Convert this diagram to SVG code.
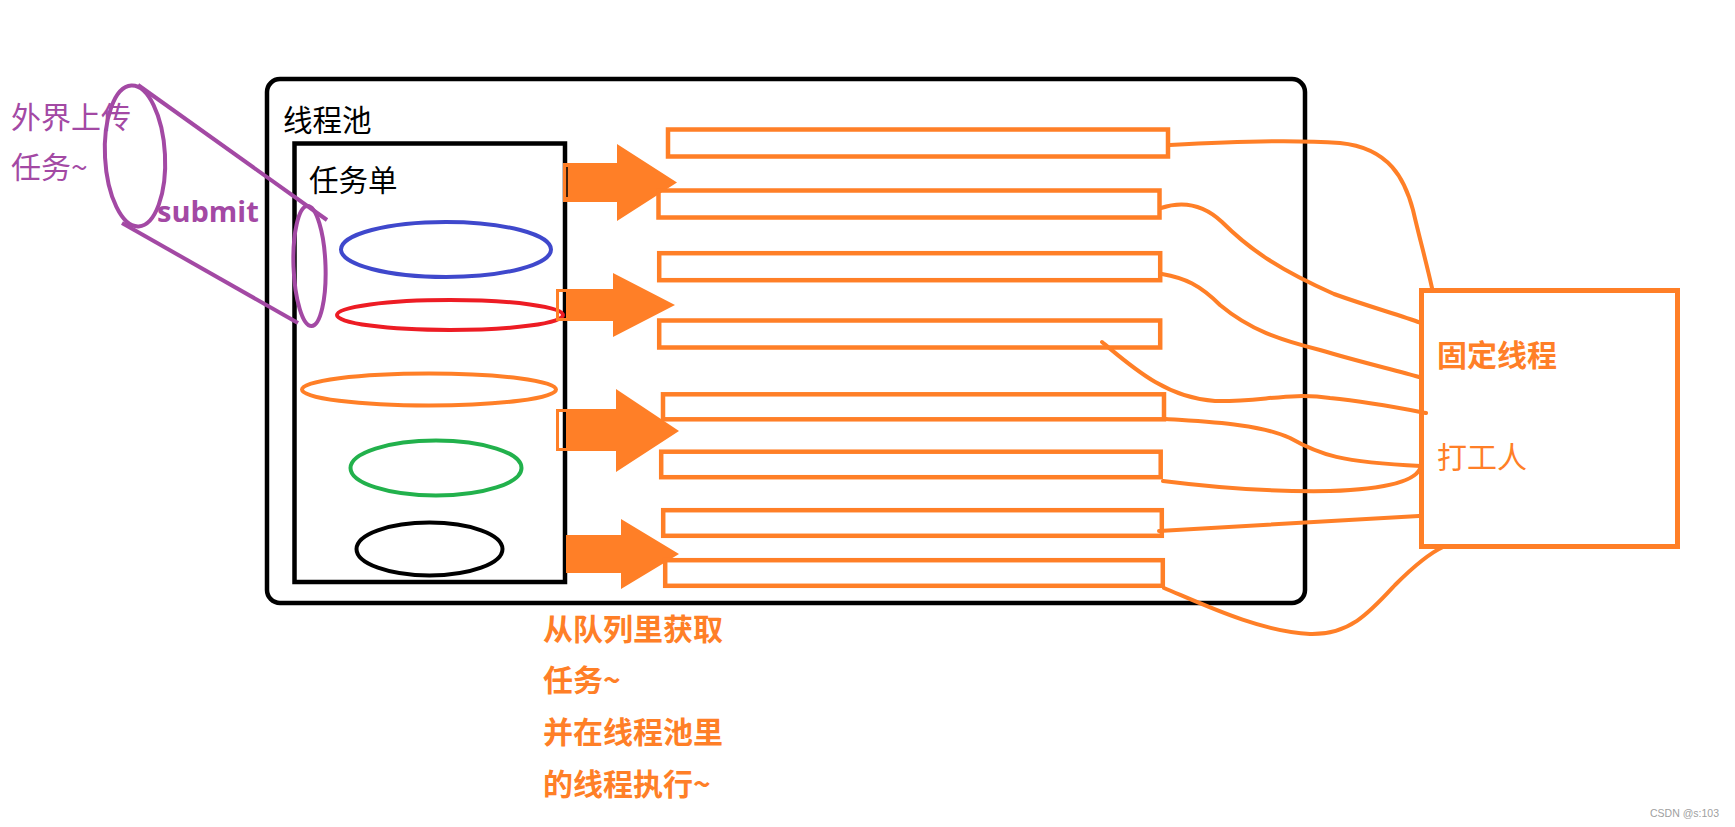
<svg xmlns="http://www.w3.org/2000/svg" width="1735" height="827" viewBox="0 0 1735 827">
<style>
.cjk{font-family:"Noto Sans CJK SC","Noto Sans",sans-serif;}
.purple{fill:#a349a4;}
.orange{fill:#ff7f27;}
.pstroke{fill:none;stroke:#a349a4;stroke-width:4;}
.thread{fill:none;stroke:#ff7f27;stroke-width:4.5;}
.arrow{fill:#ff7f27;stroke:none;}
.conn{fill:none;stroke:#ff7f27;stroke-width:4;stroke-linecap:round;}
.task{fill:none;stroke-width:4;}
</style>
<rect width="1735" height="827" fill="#ffffff"/>

<g id="pool">
  <rect x="267" y="79" width="1038" height="524" rx="13" fill="none" stroke="#000" stroke-width="4.5"/>
  <text x="283" y="131" class="cjk" font-size="29.5" fill="#000">线程池</text>
</g>

<g id="queue">
  <rect x="294.5" y="143.5" width="270.5" height="438.5" fill="none" stroke="#000" stroke-width="4.5"/>
  <text x="309" y="191" class="cjk" font-size="29.5" fill="#000">任务单</text>
</g>

<g id="task-blue"><ellipse cx="446" cy="249.5" rx="105" ry="27.5" class="task" stroke="#3f48cc"/></g>
<g id="task-red"><ellipse cx="450" cy="315" rx="113" ry="15" class="task" stroke="#ed1c24"/></g>
<g id="task-orange"><ellipse cx="429" cy="389.5" rx="127" ry="16" class="task" stroke="#ff7f27" stroke-width="3.5"/></g>
<g id="task-green"><ellipse cx="436" cy="468" rx="85.5" ry="27.5" class="task" stroke="#22b14c"/></g>
<g id="task-black"><ellipse cx="429.5" cy="549" rx="73" ry="26.5" class="task" stroke="#000"/></g>

<g id="submit-cylinder">
  <ellipse cx="135" cy="156" rx="30" ry="70.5" class="pstroke" transform="rotate(-3 135 156)"/>
  <ellipse cx="309.5" cy="266" rx="16" ry="60" class="pstroke" transform="rotate(-2 309.5 266)"/>
  <line x1="138" y1="85" x2="327" y2="220" class="pstroke"/>
  <line x1="122" y1="223" x2="298" y2="323" class="pstroke"/>
  <text x="11" y="128" class="cjk purple" font-size="30">外界上传</text>
  <text x="11" y="178" class="cjk purple" font-size="30">任务~</text>
  <text x="157" y="222" font-family="'Open Sans','Noto Sans',sans-serif" font-weight="bold" font-size="29" class="purple">submit</text>
</g>

<g id="fetch-arrows">
  <polygon class="arrow" points="563,163 617,163 617,144 677,182.5 617,221 617,202 563,202"/>
  <line x1="567" y1="167" x2="567" y2="197" stroke="#000" stroke-width="1.5"/>
  <polygon class="arrow" points="568,289 613,289 613,273 675,305 613,337 613,321 568,321"/>
  <rect x="557.5" y="290.5" width="10" height="29" fill="none" stroke="#ff7f27" stroke-width="3"/>
  <polygon class="arrow" points="568,409 616,409 616,389 679,431 616,472 616,451 568,451"/>
  <rect x="557.5" y="410.5" width="10" height="39" fill="none" stroke="#ff7f27" stroke-width="3"/>
  <polygon class="arrow" points="566,535 621,535 621,519 679,554 621,589 621,573 566,573"/>
</g>

<g id="thread-1"><rect x="668" y="129.5" width="500" height="27" class="thread"/></g>
<g id="thread-2"><rect x="658.5" y="190.5" width="501" height="27" class="thread"/></g>
<g id="thread-3"><rect x="659.2" y="253.2" width="501" height="27" class="thread"/></g>
<g id="thread-4"><rect x="659.2" y="320.5" width="501" height="27" class="thread"/></g>
<g id="thread-5"><rect x="663" y="394.3" width="501" height="25" class="thread"/></g>
<g id="thread-6"><rect x="661.2" y="451.7" width="499.5" height="25.5" class="thread"/></g>
<g id="thread-7"><rect x="663.2" y="510.2" width="498.6" height="25.6" class="thread"/></g>
<g id="thread-8"><rect x="665.2" y="560.2" width="497.6" height="25.6" class="thread"/></g>

<g id="connectors">
  <path class="conn" d="M1170,145 C1240,141 1300,140 1340,143 C1390,148 1405,180 1413,210 C1420,240 1427,265 1432,288"/>
  <path class="conn" d="M1161,208 C1185,200 1205,206 1222,222 C1250,250 1280,270 1334,294 C1370,307 1400,315 1421,323"/>
  <path class="conn" d="M1162,274 C1185,278 1200,285 1220,305 C1250,330 1280,340 1320,350 C1360,362 1395,370 1419,377"/>
  <path class="conn" d="M1102,342 C1130,365 1165,398 1215,401 C1260,402 1290,392 1330,398 C1370,402 1400,408 1426,413"/>
  <path class="conn" d="M1166,419 C1210,422 1260,424 1290,438 C1320,455 1340,462 1421,466"/>
  <path class="conn" d="M1163,481 C1210,487 1270,492 1330,491 C1390,489 1418,480 1421,466"/>
  <path class="conn" d="M1159,531 L1419,516" stroke-width="6"/>
  <path class="conn" d="M1164,588 C1200,603 1260,632 1310,634 C1350,635 1370,612 1395,585 C1415,565 1430,553 1443,547"/>
</g>

<g id="worker">
  <rect x="1421.5" y="290.5" width="256" height="256" fill="none" stroke="#ff7f27" stroke-width="5"/>
  <text x="1437" y="366" class="cjk orange" font-size="30" font-weight="bold">固定线程</text>
  <text x="1437" y="468" class="cjk orange" font-size="30">打工人</text>
</g>

<g id="fetch-label" class="cjk orange" font-size="30" font-weight="bold">
  <text x="543" y="640">从队列里获取</text>
  <text x="543" y="691">任务~</text>
  <text x="543" y="743">并在线程池里</text>
  <text x="543" y="795">的线程执行~</text>
</g>

<text x="1650" y="817" font-family="'Liberation Sans',sans-serif" font-size="10.5" fill="#a0a0a0">CSDN @s:103</text>
</svg>
